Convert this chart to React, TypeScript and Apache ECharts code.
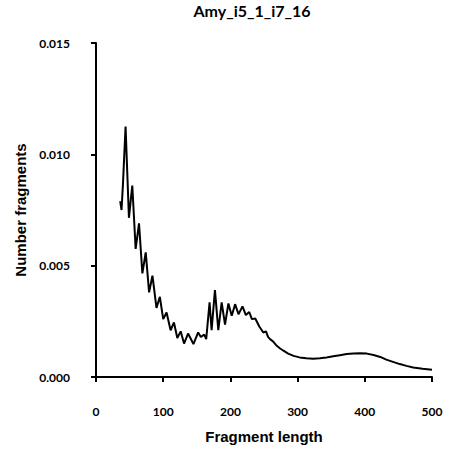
import React, { useEffect, useRef } from "react";
import * as echarts from "echarts";

const titleText = "Amy_i5_1_i7_16";
const xName = "Fragment length";
const yName = "Number fragments";

// Fragment length (bp)
const lengths = [
  36, 38, 40, 44, 49, 54, 59, 64, 69, 74, 79, 84, 90, 95, 100, 105, 111, 116, 121, 126,
  131, 137, 145, 152, 156, 161, 164, 169, 172, 177, 182, 187, 192, 197, 202, 207, 212, 218,
  223, 228, 232, 237, 243, 249, 253, 256, 259, 264, 269, 274, 279, 286, 294, 303, 313, 323,
  333, 343, 353, 363, 373, 383, 393, 403, 413, 423, 432, 442, 452, 462, 472, 486, 500,
];
// Number fragments (fraction)
const counts = [
  0.0079, 0.0075, 0.0086, 0.01125, 0.00715, 0.0086, 0.00575, 0.0069, 0.00465, 0.0056,
  0.0038, 0.00455, 0.0031, 0.0036, 0.0026, 0.0029, 0.0021, 0.00245, 0.00175, 0.00205,
  0.0015, 0.00195, 0.00148, 0.002, 0.0018, 0.0019, 0.0017, 0.00335, 0.0021, 0.0039,
  0.0021, 0.00335, 0.00235, 0.0033, 0.00275, 0.00327, 0.00282, 0.00317, 0.00278, 0.00292,
  0.0026, 0.00263, 0.00227, 0.002, 0.00205, 0.0018, 0.0017, 0.00158, 0.0014, 0.00128,
  0.00118, 0.00105, 0.00095, 0.00088, 0.00084, 0.00082, 0.00084, 0.00088, 0.00093,
  0.00098, 0.00103, 0.00106, 0.00107, 0.00105, 0.00099, 0.0009, 0.00078, 0.00068,
  0.00058, 0.0005, 0.00043, 0.00037, 0.00033,
];

const xTicks = [0, 100, 200, 300, 400, 500];
const yTicks = [0, 0.005, 0.01, 0.015];

export default function App() {
  const ref = useRef<HTMLDivElement>(null);
  useEffect(() => {
    if (!ref.current) return;
    const chart = echarts.init(ref.current, null, { renderer: "svg" });
    const data = lengths.map((x, i) => [x, counts[i]]);
    const tickFont = { fontFamily: "Lato", fontWeight: "bold" as const, fontSize: 12, color: "#000" };
    chart.setOption({
      animation: false,
      backgroundColor: "#fff",
      graphic: [
        {
          type: "text",
          x: 252,
          y: 10,
          style: {
            text: titleText,
            fontFamily: "Lato",
            fontWeight: "bold",
            fontSize: 16,
            fill: "#000",
            align: "center",
            verticalAlign: "middle",
          },
        },
      ],
      grid: { left: 96, right: 22, top: 43, bottom: 71, containLabel: false },
      xAxis: {
        type: "value",
        min: xTicks[0],
        max: xTicks[xTicks.length - 1],
        interval: 100,
        offset: 23,
        name: xName,
        nameLocation: "middle",
        nameGap: 29,
        nameTextStyle: { fontFamily: "Liberation Sans", fontWeight: "bold", fontSize: 15, color: "#000" },
        axisLine: { show: true, lineStyle: { color: "#000", width: 2 } },
        axisTick: { show: true, length: 5, lineStyle: { color: "#000", width: 2 } },
        axisLabel: { ...tickFont, margin: 5 },
        splitLine: { show: false },
      },
      yAxis: {
        type: "value",
        min: yTicks[0],
        max: yTicks[yTicks.length - 1],
        interval: 0.005,
        offset: 23,
        name: yName,
        nameLocation: "middle",
        nameGap: 42,
        nameTextStyle: { fontFamily: "Liberation Sans", fontWeight: "bold", fontSize: 15, color: "#000" },
        axisLine: { show: true, lineStyle: { color: "#000", width: 2 } },
        axisTick: { show: true, length: 5, lineStyle: { color: "#000", width: 2 } },
        axisLabel: { ...tickFont, margin: 3, formatter: (v: number) => v.toFixed(3) },
        splitLine: { show: false },
      },
      series: [
        {
          type: "line",
          data,
          symbol: "none",
          lineStyle: { color: "#000", width: 2 },
          clip: false,
        },
      ],
    });
    return () => chart.dispose();
  }, []);
  return (
    <div
      ref={ref}
      style={{ position: "absolute", left: 0, top: 0, width: 454, height: 449 }}
    />
  );
}
